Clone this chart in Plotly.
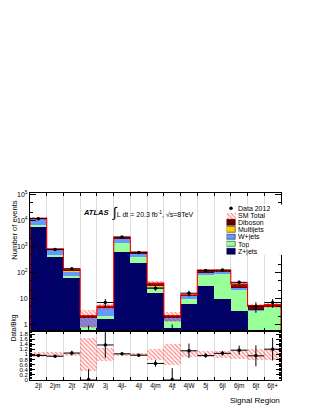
import numpy as np
import plotly.graph_objects as go

# Signal regions (x categories)
regions = ["2jl", "2jm", "2jt", "2jW", "3j", "4jl-", "4jl", "4jm", "4jt",
           "4jW", "5j", "6jl", "6jm", "6jt", "6jt+"]

# background estimates per region
zjets = [5800, 430, 68, 0.3, 1.8, 650, 240, 17, 0.75, 6.3, 30, 9.7, 3.4, 0.6, 0.6]
top = [1400, 60, 10, 0.5, 0.3, 710, 160, 6, 0.6, 3.2, 50, 88, 17.6, 3.0, 4.4]
wjets = [4900, 300, 40, 1.1, 2.6, 700, 170, 7, 0.55, 3.5, 27, 12, 6, 0.1, 0.05]
multijets = [100, 10, 2, 0.0, 0.05, 40, 10, 0.5, 0.0, 0.1, 1, 0.5, 0.3, 0.0, 0.0]
diboson = [300, 30, 13, 0.3, 0.35, 200, 40, 8.5, 0.3, 0.9, 18, 9.8, 8.7, 1.6, 0.75]

# relative uncertainty of SM total
sm_unc = [0.10, 0.10, 0.06, 0.65, 0.25, 0.07, 0.07, 0.20, 0.42, 0.12, 0.12, 0.13, 0.18, 0.20, 0.22]

# data 2012
data = [12000, 770, 140, 0, 7, 2350, 600, 25, 0, 16, 120, 125, 42, 5, 7]
data_err_up = [110, 28, 12, 0.9, 2.6, 48, 24, 5, 1.0, 4, 11, 11, 6.5, 2.2, 2.6]
data_err_dn = [110, 28, 12, 0.0, 2.6, 48, 24, 5, 0.0, 4, 11, 11, 6.5, 2.2, 2.6]

legend_labels = ["Data 2012", "SM Total", "Diboson", "Multijets", "W+jets", "Top", "Z+jets"]

# page body has an 8px margin, so the figure is made smaller and positions shifted
OFF = 8
W, H = 321 - 2 * OFF, 415 - 2 * OFF


def px(x):
    return (x - OFF) / W


def py(y):
    return 1 - (y - OFF) / H


x = np.arange(len(regions))
comps = [("Z+jets", zjets, "#000066"), ("Top", top, "#99ff99"),
         ("W+jets", wjets, "#6699ff"), ("Multijets", multijets, "#ffcc00"),
         ("Diboson", diboson, "#660000")]
total = np.sum([np.array(c[1], float) for c in comps], axis=0)
unc = np.array(sm_unc)
d = np.array(data, float)

fig = go.Figure()

# stacked backgrounds (drawn with explicit bases so the log axis is happy)
base = np.full(len(x), 1e-3)
for name, vals, col in comps:
    v = np.array(vals, float)
    fig.add_trace(go.Bar(x=x, y=v, base=base, width=1, marker=dict(color=col, line_width=0),
                         xaxis="x", yaxis="y", showlegend=False))
    base = base + v

# SM total band
hatch = dict(shape="\\", fgcolor="#ff2020", bgcolor="rgba(0,0,0,0)", size=3, solidity=0.45)
fig.add_trace(go.Bar(x=x, y=2 * unc * total, base=total * (1 - unc), width=1,
                     marker=dict(color="rgba(0,0,0,0)", line_width=0, pattern=hatch),
                     xaxis="x", yaxis="y", showlegend=False))

# SM total outline
edges = np.arange(len(x) + 1) - 0.5
fig.add_trace(go.Scatter(x=np.r_[edges[0], edges], y=np.r_[1e-3, total, total[-1]],
                         mode="lines", line=dict(color="#ff0000", width=1.1, shape="hv"),
                         xaxis="x", yaxis="y", showlegend=False))
fig.add_trace(go.Scatter(x=[edges[-1], edges[-1]], y=[total[-1], 1e-3], mode="lines",
                         line=dict(color="#ff0000", width=1.1), xaxis="x", yaxis="y", showlegend=False))

# data points
d_plot = np.where(d > 0, d, 1e-3)
fig.add_trace(go.Scatter(x=x, y=d_plot, mode="markers",
                         marker=dict(color="black", size=3.5),
                         error_y=dict(type="data", symmetric=False, array=data_err_up,
                                      arrayminus=data_err_dn, color="black", thickness=1, width=0),
                         error_x=dict(type="constant", value=0.5, color="black", thickness=1, width=0),
                         xaxis="x", yaxis="y", showlegend=False))

# ratio panel
fig.add_trace(go.Bar(x=x, y=2 * unc, base=1 - unc, width=1,
                     marker=dict(color="rgba(0,0,0,0)", line_width=0, pattern=hatch),
                     xaxis="x2", yaxis="y2", showlegend=False))
ratio = d / total
fig.add_trace(go.Scatter(x=x, y=ratio, mode="markers", marker=dict(color="black", size=3.5),
                         error_y=dict(type="data", symmetric=False,
                                      array=np.array(data_err_up) / total,
                                      arrayminus=np.array(data_err_dn) / total,
                                      color="black", thickness=1, width=0),
                         error_x=dict(type="constant", value=0.5, color="black", thickness=1, width=0),
                         cliponaxis=False, xaxis="x2", yaxis="y2", showlegend=False))

# hand made legend (plotly's own legend rows are too tall for this)
leg_cols = [None, None, "#660000", "#ffcc00", "#6699ff", "#99ff99", "#000066"]
rows = np.arange(len(legend_labels))
for i, col in enumerate(leg_cols):
    if col is None:
        continue
    fig.add_trace(go.Bar(x=[1], y=[rows[i]], base=[0], orientation="h", width=0.78,
                         marker=dict(color=col, line=dict(color="black", width=0.5)),
                         xaxis="x3", yaxis="y3", showlegend=False))
fig.add_trace(go.Bar(x=[1], y=[rows[1]], base=[0], orientation="h", width=0.78,
                     marker=dict(color="rgba(0,0,0,0)", line_width=0, pattern=hatch),
                     xaxis="x3", yaxis="y3", showlegend=False))
fig.add_trace(go.Scatter(x=[0.5], y=[rows[0]], mode="markers", marker=dict(color="black", size=3.5),
                         xaxis="x3", yaxis="y3", showlegend=False))
for i, lab in enumerate(legend_labels):
    fig.add_annotation(x=1.2, y=rows[i], xref="x3", yref="y3", text=lab, showarrow=False,
                       xanchor="left", yanchor="middle", font=dict(size=7), borderpad=0,
                       height=7.2, valign="middle")

font = "Liberation Sans, Arial, sans-serif"
axcommon = dict(showline=True, linecolor="black", linewidth=1, mirror="allticks",
                ticks="inside", tickcolor="black", zeroline=False)

fig.update_layout(
    width=W, height=H, margin=dict(l=0, r=0, t=0, b=0),
    plot_bgcolor="white", paper_bgcolor="white",
    barmode="overlay", bargap=0, showlegend=False,
    font=dict(family=font, size=7, color="black"),
    xaxis=dict(domain=[px(30), px(281)], range=[-0.5, len(x) - 0.5], anchor="y",
               tickvals=x, showticklabels=False, ticklen=0, showgrid=False,
               minor=dict(tick0=-0.5, dtick=1, showgrid=True, gridcolor="#dddddd",
                          ticks="inside", ticklen=3, tickcolor="black"),
               matches="x2", **axcommon),
    yaxis=dict(domain=[py(333), py(193)], type="log", range=[-0.25, 5.08], anchor="x",
               tickvals=[1, 10, 100, 1e3, 1e4, 1e5],
               ticktext=["1", "10", "10<sup>2</sup>", "10<sup>3</sup>", "10<sup>4</sup>", "10<sup>5</sup>"],
               ticklen=6, showgrid=False, tickfont=dict(size=7),
               minor=dict(ticks="inside", ticklen=3, tickcolor="black", showgrid=False),
               **axcommon),
    xaxis2=dict(domain=[px(30), px(281)], range=[-0.5, len(x) - 0.5], anchor="y2",
                tickvals=x, ticktext=regions, ticklen=0, showgrid=False,
                tickfont=dict(size=6.5),
                minor=dict(tick0=-0.5, dtick=1, showgrid=True, gridcolor="#dddddd",
                           ticks="inside", ticklen=3, tickcolor="black"),
                **axcommon),
    yaxis2=dict(domain=[py(382.3), py(333)], range=[0, 1.93], anchor="x2",
                tickvals=[0, 0.2, 0.4, 0.6, 0.8, 1, 1.2, 1.4, 1.6, 1.8],
                ticktext=["0", "0.2", "0.4", "0.6", "0.8", "1", "1.2", "1.4", "1.6", "1.8"],
                ticklen=5, showgrid=False, tickfont=dict(size=6),
                minor=dict(dtick=0.05, ticks="inside", ticklen=2, tickcolor="black", showgrid=False),
                **axcommon),
    # legend key column: 9px wide boxes, range extended so the labels stay inside it
    xaxis3=dict(domain=[px(226.5), px(226.5 + 9 * 7)], range=[0, 7], visible=False,
                anchor="y3", fixedrange=True),
    yaxis3=dict(domain=[py(256), py(205)], range=[len(legend_labels) - 0.5, -0.5], visible=False,
                anchor="x3", fixedrange=True),
)

fig.add_annotation(x=px(8), y=py(231), xref="paper", yref="paper", text="Number of events",
                   textangle=-90, showarrow=False, font=dict(size=7.5))
fig.add_annotation(x=px(8), y=py(346), xref="paper", yref="paper", text="Data/Bkg",
                   textangle=-90, showarrow=False, font=dict(size=6.5))
fig.add_annotation(x=px(281), y=py(403), xref="paper", yref="paper", text="Signal Region",
                   xanchor="right", yanchor="middle", showarrow=False, font=dict(size=8),
                   borderpad=0)
fig.add_annotation(x=px(81), y=py(213), xref="paper", yref="paper", text="<b><i>ATLAS</i></b>",
                   showarrow=False, font=dict(size=7.5))
fig.add_annotation(x=px(110), y=py(213), xref="paper", yref="paper",
                   text="<span style='font-size:14px'>∫</span>L dt = 20.3 fb<sup>-1</sup>, √s=8TeV",
                   xanchor="left", showarrow=False, font=dict(size=7))

fig.write_html("out.html")
